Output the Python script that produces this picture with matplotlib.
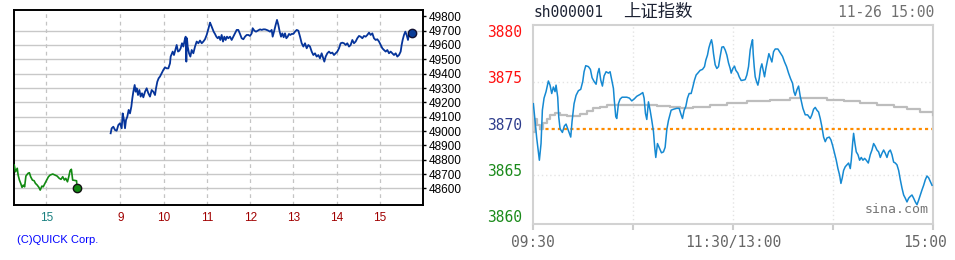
import matplotlib
matplotlib.use('Agg')
import matplotlib.pyplot as plt
from matplotlib.transforms import ScaledTranslation

# 左: 日経平均 (QUICK) ----------------------------------------------------
# 前日 (実時刻, 時)
prev_t = [14.26, 14.29, 14.33, 14.35, 14.38, 14.41, 14.44, 14.47, 14.50, 14.53,
          14.58, 14.61, 14.64, 14.68, 14.72, 14.75, 14.79, 14.83, 14.86, 14.90,
          14.93, 14.97, 15.01, 15.05, 15.09, 15.15, 15.20, 15.25, 15.30, 15.34,
          15.38, 15.42, 15.45, 15.49, 15.52, 15.55, 15.58, 15.61, 15.70, 15.71]
prev_v = [48763, 48716, 48740, 48693, 48658, 48635, 48607, 48623, 48611, 48686,
          48705, 48709, 48681, 48658, 48653, 48635, 48623, 48607, 48588, 48616,
          48611, 48635, 48658, 48681, 48693, 48700, 48693, 48686, 48670, 48663,
          48681, 48658, 48670, 48646, 48681, 48723, 48733, 48658, 48653, 48602]
prev_shift = 7.71          # 前日15時を左端側に寄せる

# 当日 (軸上の時)
today_t = [8.777, 8.801, 8.839, 8.878, 8.916, 8.955, 8.993, 9.032, 9.055, 9.085,
           9.109, 9.132, 9.162, 9.193, 9.224, 9.255, 9.278, 9.301, 9.332, 9.355,
           9.378, 9.409, 9.440, 9.470, 9.501, 9.532, 9.571, 9.609, 9.648, 9.686,
           9.725, 9.763, 9.802, 9.825, 9.855, 9.886, 9.917, 9.956, 9.994, 10.033,
           10.071, 10.110, 10.148, 10.163, 10.210, 10.240, 10.271, 10.302, 10.333, 10.364,
           10.394, 10.425, 10.456, 10.487, 10.510, 10.525, 10.540, 10.556, 10.587, 10.618,
           10.649, 10.687, 10.726, 10.764, 10.803, 10.841, 10.880, 10.918, 10.956, 10.995,
           11.034, 11.072, 11.095, 11.125, 11.156, 11.187, 11.218, 11.249, 11.279, 11.310,
           11.341, 11.372, 11.403, 11.433, 11.464, 11.495, 11.534, 11.572, 11.611, 11.649,
           11.688, 11.726, 11.765, 11.803, 11.842, 11.880, 11.919, 11.957, 11.996, 12.034,
           12.057, 12.096, 12.134, 12.173, 12.227, 12.265, 12.304, 12.342, 12.381, 12.419,
           12.458, 12.496, 12.519, 12.550, 12.588, 12.619, 12.650, 12.681, 12.712, 12.742,
           12.773, 12.804, 12.835, 12.866, 12.896, 12.927, 12.958, 12.997, 13.035, 13.074,
           13.112, 13.151, 13.189, 13.228, 13.266, 13.305, 13.343, 13.381, 13.420, 13.458,
           13.497, 13.535, 13.574, 13.612, 13.650, 13.689, 13.712, 13.743, 13.781, 13.820,
           13.858, 13.897, 13.935, 13.974, 14.012, 14.051, 14.089, 14.128, 14.166, 14.205,
           14.243, 14.282, 14.320, 14.359, 14.397, 14.436, 14.474, 14.513, 14.551, 14.590,
           14.628, 14.667, 14.705, 14.744, 14.782, 14.821, 14.859, 14.898, 14.936, 14.975,
           15.013, 15.052, 15.090, 15.129, 15.167, 15.206, 15.244, 15.283, 15.321, 15.360,
           15.398, 15.437, 15.475, 15.498, 15.521, 15.552, 15.583, 15.613, 15.644, 15.667,
           15.690, 15.737]
today_v = [48984, 49019, 49030, 49007, 49002, 49042, 49054, 49019, 49123, 49077,
           49019, 49077, 49100, 49147, 49123, 49170, 49228, 49274, 49321, 49274,
           49298, 49251, 49286, 49240, 49263, 49235, 49274, 49298, 49263, 49240,
           49286, 49274, 49251, 49298, 49344, 49368, 49380, 49403, 49426, 49444,
           49437, 49437, 49472, 49519, 49554, 49530, 49565, 49600, 49554, 49560,
           49577, 49612, 49589, 49635, 49658, 49484, 49647, 49589, 49542, 49519,
           49565, 49542, 49589, 49624, 49612, 49631, 49612, 49624, 49640, 49670,
           49712, 49756, 49740, 49717, 49693, 49677, 49658, 49647, 49658, 49635,
           49670, 49624, 49658, 49635, 49658, 49647, 49658, 49635, 49658, 49681,
           49705, 49705, 49677, 49647, 49640, 49658, 49670, 49670, 49663, 49681,
           49717, 49700, 49693, 49700, 49709, 49705, 49709, 49709, 49705, 49700,
           49693, 49705, 49658, 49693, 49740, 49775, 49740, 49693, 49658, 49681,
           49654, 49681, 49647, 49658, 49677, 49670, 49677, 49677, 49693, 49705,
           49700, 49658, 49612, 49589, 49612, 49577, 49600, 49589, 49554, 49530,
           49542, 49519, 49530, 49507, 49542, 49507, 49484, 49519, 49542, 49554,
           49542, 49547, 49530, 49542, 49554, 49577, 49612, 49616, 49612, 49600,
           49612, 49589, 49600, 49635, 49612, 49624, 49647, 49663, 49658, 49647,
           49663, 49658, 49670, 49686, 49670, 49681, 49647, 49635, 49640, 49624,
           49600, 49577, 49565, 49554, 49565, 49542, 49554, 49542, 49530, 49542,
           49519, 49530, 49554, 49600, 49635, 49670, 49693, 49670, 49635, 49677,
           49681, 49686]

nk_xticks = [7.29, 9, 10, 11, 12, 13, 14, 15]
nk_xlabels = ['15', '9', '10', '11', '12', '13', '14', '15']
nk_yticks = list(range(48600, 49900, 100))

# 右: 上证指数 (sina) -----------------------------------------------------
sh_min = [0.4, 1.4, 2.4, 4.0, 5.0, 5.8, 6.8, 8.0, 9.4, 10.4, 11.4, 12.4, 13.4, 14.0,
          15.0, 15.6, 16.4, 17.8, 19.0, 20.0, 21.0, 22.0, 22.8, 23.6, 24.8, 26.0,
          27.4, 28.8, 30.0, 30.8, 31.8, 33.4, 34.6, 35.6, 36.8, 38.0, 39.0, 39.8,
          40.8, 41.8, 42.8, 44.0, 45.4, 46.4, 47.4, 48.4, 49.0, 49.8, 50.4, 51.4,
          52.4, 53.6, 56.4, 58.0, 59.4, 60.8, 62.4, 64.4, 66.0, 66.8, 67.6, 68.4,
          69.4, 70.4, 71.4, 72.4, 73.2, 73.8, 74.8, 76.0, 77.2, 78.4, 79.4, 80.4,
          81.4, 83.0, 84.4, 86.4, 87.8, 89.0, 89.8, 90.8, 91.8, 92.8, 93.8, 95.0,
          96.0, 97.0, 98.0, 99.0, 100.4, 101.8, 103.0, 103.8, 104.8, 105.6, 106.4,
          107.2, 107.8, 108.4, 109.4, 110.4, 111.4, 112.4, 113.4, 114.4, 115.4,
          116.4, 117.4, 118.4, 119.0, 120.0, 121.0, 121.8, 123.0, 123.8, 125.0,
          126.4, 127.4, 128.4, 129.4, 130.4, 131.2, 131.8, 132.2, 132.8, 133.4,
          134.2, 135.0, 135.8, 136.6, 137.4, 138.2, 139.0, 139.8, 140.6, 141.6,
          142.4, 143.4, 144.4, 145.4, 147.0, 148.4, 149.8, 151.0, 152.2, 153.4,
          154.6, 155.8, 156.6, 157.4, 158.4, 159.4, 160.4, 162.0, 163.4, 164.8,
          166.4, 167.4, 168.4, 169.4, 170.4, 171.4, 172.4, 173.4, 174.4, 175.4,
          176.4, 177.8, 178.8, 179.8, 181.0, 182.0, 183.0, 184.0, 184.8, 185.6,
          186.4, 187.4, 188.4, 189.4, 190.4, 191.0, 191.8, 192.4, 193.2, 194.0,
          195.0, 196.0, 197.0, 198.0, 199.0, 200.0, 201.2, 202.4, 203.4, 204.4,
          205.4, 206.4, 207.4, 208.4, 209.4, 210.4, 211.4, 212.4, 213.4, 214.4,
          215.4, 216.4, 217.4, 218.4, 219.4, 220.4, 221.4, 222.4, 223.4, 224.4,
          225.4, 226.4, 227.4, 228.4, 229.4, 230.4, 231.4, 232.4, 233.4, 234.4,
          235.4, 236.4, 237.4, 238.4, 239.4]
sh_price = [3872.7, 3870.9, 3869.0, 3866.6, 3868.4, 3872.0, 3873.3, 3874.0, 3875.15,
            3874.7, 3873.8, 3874.5, 3874.0, 3874.7, 3873.4, 3871.3, 3870.0, 3869.6,
            3870.3, 3870.5, 3870.0, 3869.5, 3869.1, 3870.8, 3872.7, 3873.6, 3874.1,
            3874.25, 3875.1, 3876.15, 3876.8, 3876.7, 3876.4, 3875.5, 3875.1, 3874.8,
            3876.0, 3876.5, 3875.25, 3874.6, 3875.7, 3876.15, 3876.0, 3876.15, 3875.25,
            3874.35, 3872.9, 3871.3, 3871.1, 3872.7, 3873.2, 3873.4, 3873.4, 3873.3,
            3873.0, 3873.2, 3873.5, 3873.7, 3873.9, 3873.3, 3871.65, 3871.0, 3872.9,
            3872.0, 3870.9, 3869.7, 3867.9, 3866.9, 3868.4, 3867.9, 3867.4, 3867.5,
            3868.0, 3869.9, 3870.9, 3872.0, 3872.1, 3872.2, 3872.2, 3871.5, 3871.1,
            3872.0, 3872.4, 3873.3, 3873.8, 3873.8, 3874.5, 3875.25, 3875.8, 3876.0,
            3876.3, 3876.4, 3876.7, 3877.4, 3877.95, 3878.7, 3879.2, 3879.6, 3879.05,
            3878.1, 3876.9, 3876.5, 3876.7, 3877.8, 3878.8, 3878.85, 3878.5, 3877.95,
            3877.1, 3876.5, 3876.0, 3876.5, 3876.75, 3876.3, 3876.0, 3875.6, 3875.2,
            3875.25, 3875.3, 3875.8, 3876.7, 3878.5, 3879.2, 3879.6, 3878.1, 3876.7,
            3875.6, 3875.1, 3874.7, 3875.4, 3876.5, 3877.0, 3876.3, 3875.6, 3876.5,
            3877.2, 3878.1, 3877.7, 3877.2, 3878.3, 3878.6, 3878.6, 3878.2, 3877.8,
            3877.2, 3876.7, 3876.0, 3875.4, 3874.9, 3874.0, 3873.6, 3874.2, 3874.6,
            3873.5, 3872.2, 3871.5, 3871.5, 3871.1, 3871.5, 3872.1, 3872.3, 3872.0,
            3871.8, 3871.1, 3870.2, 3869.1, 3868.6, 3869.0, 3869.1, 3868.8, 3868.2,
            3867.35, 3866.6, 3865.7, 3865.0, 3864.1, 3864.7, 3865.5, 3865.9, 3866.1,
            3866.3, 3865.7, 3866.6, 3868.4, 3869.5, 3868.4, 3867.5, 3867.2, 3866.6,
            3866.9, 3866.6, 3866.8, 3866.6, 3866.3, 3867.2, 3867.7, 3868.4, 3868.1,
            3867.7, 3867.5, 3866.9, 3867.35, 3867.7, 3867.35, 3866.9, 3867.5, 3867.7,
            3867.2, 3866.4, 3866.3, 3866.1, 3865.5, 3864.5, 3863.6, 3862.85, 3862.5,
            3862.1, 3862.5, 3862.7, 3862.85, 3862.5, 3862.1, 3861.8, 3862.3, 3862.85,
            3863.4, 3863.9, 3864.5, 3864.9, 3864.7, 3864.3, 3863.9]
avg_min = [0.4, 1.4, 2.8, 4.4, 6.4, 8.4, 10.4, 13.4, 16.4, 20.4, 24.4, 28.4, 32.4,
           36.4, 40.4, 44.4, 54.4, 64.4, 74.4, 82.4, 88.4, 96.4, 106.4, 116.4, 128.4,
           142.4, 154.4, 166.4, 176.4, 186.4, 196.4, 206.4, 216.4, 224.4, 232.4, 240]
avg_price = [3869.6, 3871.1, 3870.4, 3870.0, 3870.57, 3871.1, 3871.5, 3871.66, 3871.48,
             3871.37, 3871.37, 3871.55, 3871.95, 3872.2, 3872.37, 3872.55, 3872.6,
             3872.55, 3872.45, 3872.37, 3872.2, 3872.37, 3872.55, 3872.8, 3872.98,
             3873.08, 3873.33, 3873.33, 3873.08, 3872.98, 3872.8, 3872.55, 3872.3,
             3872.08, 3871.84, 3871.48]
sh_prev_close = 3870.0
sh_yticks = [3880, 3875, 3870, 3865, 3860]
sh_ycolors = ['#ff1010', '#ff1010', '#2d3c8c', '#1a8a1a', '#1a8a1a']
sh_xticks = [0, 60, 120, 180, 240]
sh_xlabels = ['09:30', '', '11:30/13:00', '', '15:00']

# フォント
sans = 'Liberation Sans'
mono = 'DejaVu Sans Mono'

fig = plt.figure(figsize=(9.55, 2.6), dpi=100)
W, H = 955.0, 260.0

# ---- 左パネル ----
ax1 = fig.add_axes([14 / W, 1 - 205 / H, 409 / W, 195 / H])
ax1.set_xlim(6.545, 15.991)
ax1.set_ylim(48484, 49844)
for v in nk_yticks[:-1]:
    ax1.axhline(v, color='#c8c8c8', lw=1, zorder=1)
for t in nk_xticks:
    ax1.axvline(t, color='#c4c4c4', lw=0.9, ls=(0, (3, 3)), zorder=1)

ax1.plot([t - prev_shift for t in prev_t], prev_v, color='#128a12', lw=1.2, zorder=3)
ax1.plot(prev_t[-1] - prev_shift, prev_v[-1], 'o', ms=6, mfc='#128a12', mec='#111111', mew=1, zorder=4)
ax1.plot(today_t, today_v, color='#06349a', lw=1.3, zorder=3)
ax1.plot(today_t[-1], today_v[-1], 'o', ms=6, mfc='#0a3c96', mec='#111133', mew=1, zorder=4)

for s in ax1.spines.values():
    s.set_color('black')
    s.set_linewidth(1.4)
ax1.yaxis.tick_right()
ax1.set_yticks(nk_yticks)
ax1.set_yticklabels([str(v) for v in nk_yticks], family=sans, fontsize=8.5)
ax1.tick_params(axis='y', length=2, width=1, pad=2, colors='black')
ax1.set_xticks(nk_xticks)
ax1.set_xticklabels(nk_xlabels, family=sans, fontsize=8.5)
ax1.tick_params(axis='x', length=0, pad=5)
for lab, c in zip(ax1.get_xticklabels(), ['#1a8080'] + ['#a00000'] * 7):
    lab.set_color(c)

fig.text(17 / W, 1 - 240 / H, '(C)QUICK Corp.', color='#0000ff', family=sans,
         fontsize=8, ha='left', va='center')

# ---- 右パネル ----
ax2 = fig.add_axes([532.7 / W, 1 - 224 / H, 400.3 / W, 199 / H])
ax2.set_xlim(0, 240)
ax2.set_ylim(3859.72, 3881.19)
for v in [3875, 3865]:
    ax2.axhline(v, color='#e4e4e4', lw=1, ls=(0, (1, 2)), zorder=1)
for t in [60, 120, 180]:
    ax2.axvline(t, color='#e4e4e4', lw=1, ls=(0, (1, 2)), zorder=1)
ax2.axhline(sh_prev_close, color='#ff8c00', lw=1.6, ls=(0, (1.4, 1.4)), zorder=2)
ax2.plot(avg_min, avg_price, color='#bdbdbd', lw=1.6, drawstyle='steps-post', zorder=3)
ax2.plot(sh_min, sh_price, color='#1589d2', lw=1.1, zorder=4)

for s in ax2.spines.values():
    s.set_color('#d2d2d2')
    s.set_linewidth(1.5)
ax2.set_yticks(sh_yticks)
ax2.set_yticklabels([str(v) for v in sh_yticks], family=mono, fontsize=10.5)
ax2.tick_params(axis='y', length=0, pad=8)
up = ScaledTranslation(0, 5 / 100, fig.dpi_scale_trans)
for lab, c in zip(ax2.get_yticklabels(), sh_ycolors):
    lab.set_color(c)
    lab.set_transform(lab.get_transform() + up)
ax2.set_xticks(sh_xticks)
ax2.set_xticklabels(sh_xlabels, family=mono, fontsize=10.5, color='#666666')
ax2.tick_params(axis='x', length=4, width=1.5, color='#cccccc', pad=4)
ax2.get_xticklabels()[-1].set_transform(
    ax2.get_xticklabels()[-1].get_transform() + ScaledTranslation(-8 / 100, 0, fig.dpi_scale_trans))

ax2.text(0.988, 0.075, 'sina.com', transform=ax2.transAxes, ha='right', va='center',
         family=mono, fontsize=9.5, color='#777777', zorder=5)

fig.text(533 / W, 1 - 12 / H, 'sh000001', family=mono, fontsize=10.5, color='#1c2233',
         ha='left', va='center')
fig.text(623 / W, 1 - 12 / H, '上证指数', family=['Noto Sans CJK SC', 'DejaVu Sans'],
         fontsize=12.5, color='#1c2233', ha='left', va='center')
fig.text(934 / W, 1 - 12 / H, '11-26 15:00', family=mono, fontsize=10.5, color='#707070',
         ha='right', va='center')

fig.savefig('out.png', dpi=100)
